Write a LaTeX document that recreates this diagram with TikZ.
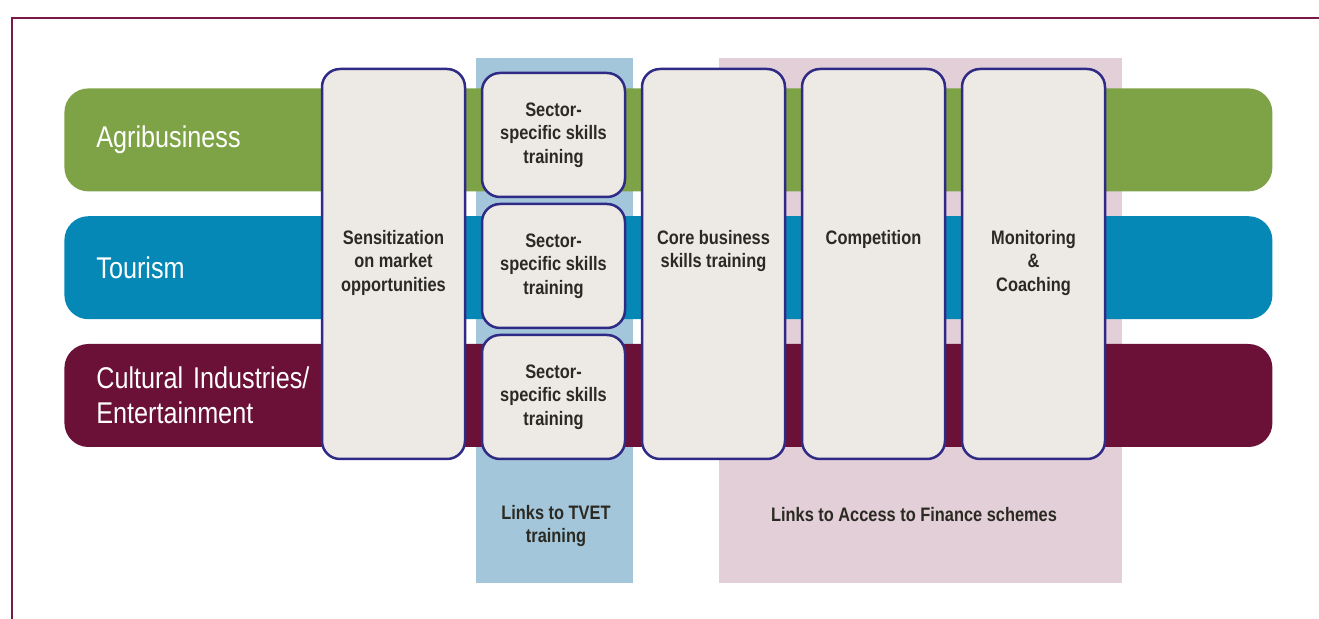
\documentclass[tikz,border=0pt]{standalone}
\usepackage{fontspec}
\setmainfont{Liberation Sans}[FakeStretch=0.84]
\usetikzlibrary{positioning}

\definecolor{framecol}{RGB}{122,26,71}
\definecolor{agrigreen}{RGB}{126,163,70}
\definecolor{tourblue}{RGB}{6,136,183}
\definecolor{culturered}{RGB}{107,16,54}
\definecolor{tvetblue}{RGB}{163,198,218}
\definecolor{finpink}{RGB}{226,207,216}
\definecolor{boxfill}{RGB}{237,234,230}
\definecolor{boxdraw}{RGB}{46,42,134}
\definecolor{textdark}{RGB}{43,42,34}

\begin{document}
\begin{tikzpicture}[
    x=0.5pt, y=-0.5pt,
    node distance=7.25pt and 7.25pt,
    panel/.style={rectangle, inner sep=0pt, anchor=north west, minimum height=262.5pt},
    band/.style={rectangle, rounded corners=12pt, anchor=north west, minimum width=604pt,
                 minimum height=51.5pt, text width=572pt, inner xsep=16pt, align=left,
                 text=white, font=\fontsize{15pt}{17.5pt}\selectfont},
    stage/.style={rectangle, draw=boxdraw, fill=boxfill, line width=1.25pt, rounded corners=9pt,
                  minimum width=71.5pt, minimum height=195pt},
    sector/.style={stage, minimum height=62pt, align=center, text=textdark,
                   font=\bfseries\fontsize{9.75pt}{11.75pt}\selectfont},
    lbl/.style={align=center, inner sep=0pt, text=textdark,
                font=\bfseries\fontsize{9.75pt}{11.75pt}\selectfont}
]
\useasboundingbox (0,0) rectangle (1319,619);

%% ── Frame ───────────────────────────────────────────────────────
\draw[framecol, line width=1pt] (1319,18.5) -- (12,18.5) -- (12,619);

%% ── Background panels ───────────────────────────────────────────
\node[panel, fill=tvetblue, minimum width=78.5pt]  (tvet) at (476,58)  {};
\node[panel, fill=finpink,  minimum width=201.5pt] (fin)  at (719,58)  {};

\node[lbl] (tvetlbl) at (556,526) {Links to TVET\\training};
\node[lbl] (finlbl)  at (914,515) {Links to Access to Finance schemes};

%% ── Sector bands ────────────────────────────────────────────────
\node[band, fill=agrigreen]  (agri)    at (64,88) {Agribusiness};
\node[band, fill=tourblue, below=12pt of agri.south west, anchor=north west]
                             (tourism) {Tourism};
\node[band, fill=culturered, below=12pt of tourism.south west, anchor=north west]
                             (culture) {Cultural Industries/\\Entertainment};

%% ── Programme stages ────────────────────────────────────────────
\node[stage] (sens) at (393.5,264) {};
\node[sector, right=of sens, yshift=-1pt] (sector2) {Sector-\\specific skills\\training};
\node[sector, above=2.25pt of sector2] (sector1) {Sector-\\specific skills\\training};
\node[sector, below=2.25pt of sector2] (sector3) {Sector-\\specific skills\\training};
\node[stage, right=of sector2, yshift=1pt] (core)    {};
\node[stage, right=of core]                (compet)  {};
\node[stage, right=of compet]              (monitor) {};

%% texts sit in the upper half of the tall boxes
\node[lbl, anchor=north] (senstxt)    at ([yshift=-81pt]sens.north)    {Sensitization\\on market\\opportunities};
\node[lbl, anchor=north] (coretxt)    at ([yshift=-81pt]core.north)    {Core business\\skills training};
\node[lbl, anchor=north] (compettxt)  at ([yshift=-81pt]compet.north)  {Competition};
\node[lbl, anchor=north] (monitortxt) at ([yshift=-81pt]monitor.north) {Monitoring\\\&\\Coaching};

\end{tikzpicture}
\end{document}
